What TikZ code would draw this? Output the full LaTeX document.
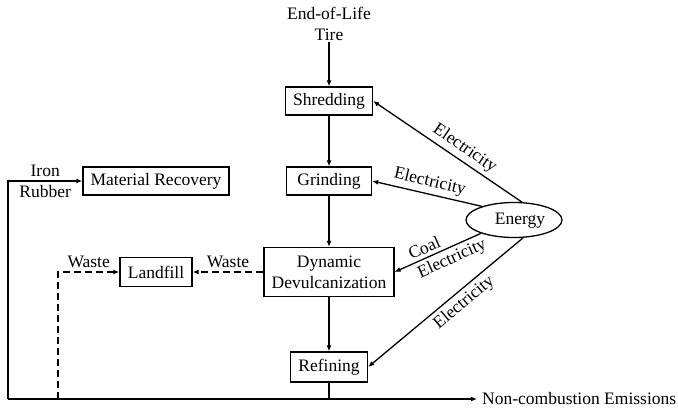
\documentclass[tikz,border=0pt]{standalone}
\usepackage{fontspec}
\setmainfont{Liberation Serif}
\usetikzlibrary{calc, arrows.meta, shapes.geometric}

\tikzset{
	diagram text/.style = {font = \fontsize{17.5}{21}\selectfont},
	process/.style = {diagram text, draw, line width = 1.3pt, inner xsep = 4pt, inner ysep = 2pt, minimum height = 28pt, align = center},
	flow/.style = {line width = 1.3pt, -{Latex[length = 6pt, width = 5pt]}},
	waste flow/.style = {flow, dash pattern = on 7pt off 4pt},
}

\begin{document}
\begin{tikzpicture}[x = 1pt, y = -1pt]
		\useasboundingbox (0,0) rectangle (678,412);
		\def\mainx{329};
		\def\bottomy{399};
		\def\leftx{8};
		\def\wastex{58};
		
		\node[diagram text, align = center, inner sep = 1pt] (tire) at (\mainx,24) {End-of-Life\\Tire};
		\node[process, minimum width = 87pt] (shredding) at (\mainx,101) {Shredding};
		\node[process, minimum width = 85pt] (grinding) at (\mainx,181) {Grinding};
		\node[process, minimum width = 130pt, minimum height = 49pt] (devulcanization) at (\mainx,272) {Dynamic\\Devulcanization};
		\node[process, minimum width = 77pt, minimum height = 30pt] (refining) at (\mainx,367) {Refining};
		\node[process, minimum width = 146pt] (material recovery) at (156,181) {Material Recovery};
		\node[process, minimum width = 72pt, minimum height = 29pt] (landfill) at (156,272) {Landfill};
		\node[diagram text, draw, ellipse, line width = 1.3pt, minimum width = 96pt, minimum height = 35pt, inner sep = 0pt, text depth = 2pt] (energy) at (514,220) {\hspace{12pt}Energy};
		\node[diagram text, anchor = west, inner sep = 5pt] (emissions) at (477,\bottomy) {Non-combustion Emissions};
		
		\coordinate (bottom left) at (\leftx,\bottomy);
		\coordinate (bottom waste) at (\wastex,\bottomy);
		\coordinate (bottom main) at (\mainx,\bottomy);
		\coordinate (recovery corner) at (\leftx,181);
		\coordinate (landfill corner) at (\wastex,272);
		
		\draw[flow] (tire) -- (shredding);
		\draw[flow] (shredding) -- (grinding);
		\draw[flow] (grinding) -- (devulcanization);
		\draw[flow] (devulcanization) -- (refining);
		\draw[line width = 1.3pt] (refining) -- (bottom main);
		\draw[flow] (bottom left) -- (emissions.west);
		\draw[flow] (bottom left) -- (recovery corner) -- (material recovery.west)
			node[diagram text, midway, above] {Iron}
			node[diagram text, midway, below] {Rubber};
		\draw[waste flow] (bottom waste) -- (landfill corner) -- (landfill.west)
			node[diagram text, midway, above] {Waste};
		\draw[waste flow] (devulcanization.west) -- (landfill.east)
			node[diagram text, midway, above] {Waste};
		
		\draw[flow] (energy.66) -- (shredding.east) node[diagram text, pos = 0.43, sloped, above] {Electricity};
		\draw[flow] (energy.157) -- (grinding.east) node[diagram text, pos = 0.5, sloped, above] {Electricity};
		\draw[flow] (energy.202) -- (devulcanization.east)
			node[diagram text, pos = 0.61, sloped, above] {Coal}
			node[diagram text, pos = 0.39, sloped, below] {Electricity};
		\draw[flow] (energy.297) -- (refining.east) node[diagram text, pos = 0.43, sloped, below] {Electricity};
	\end{tikzpicture}
\end{document}
